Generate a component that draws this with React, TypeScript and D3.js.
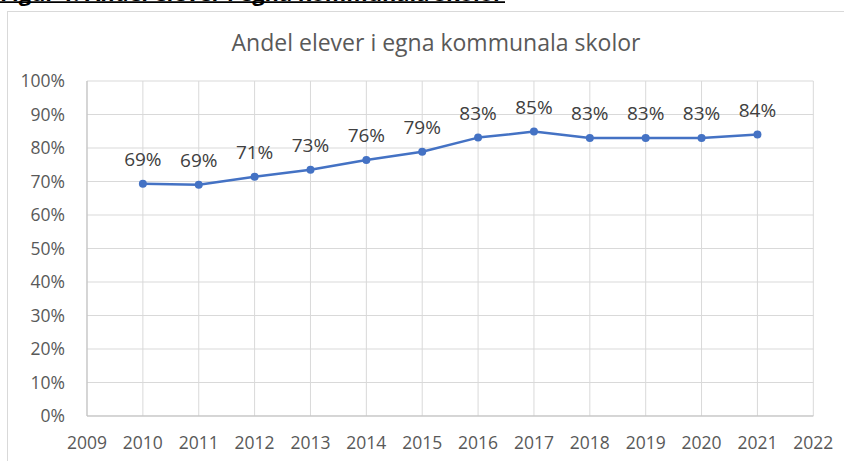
import React from "react";
import * as d3 from "d3";

const years = [2010, 2011, 2012, 2013, 2014, 2015, 2016, 2017, 2018, 2019, 2020, 2021];
const shares = [69.3, 69.0, 71.4, 73.5, 76.4, 78.9, 83.1, 84.9, 83.0, 83.0, 83.0, 84.0];
const labels = ["69%", "69%", "71%", "73%", "76%", "79%", "83%", "85%", "83%", "83%", "83%", "84%"];
const xTicks = [2009, 2010, 2011, 2012, 2013, 2014, 2015, 2016, 2017, 2018, 2019, 2020, 2021, 2022];
const yTicks = [0, 10, 20, 30, 40, 50, 60, 70, 80, 90, 100];
const chartTitle = "Andel elever i egna kommunala skolor";
const figCaption = "Figur 1. Andel elever i egna kommunala skolor";

export default function App() {
  const W = 844, H = 461;
  const x = d3.scaleLinear().domain([2009, 2022]).range([87, 813.3]);
  const y = d3.scaleLinear().domain([0, 100]).range([416, 81]);
  const line = d3.line<number>().x((_, i) => x(years[i])).y((d) => y(d));
  const font = "'Open Sans', 'Noto Sans', sans-serif";
  return (
    <svg width={W} height={H} style={{ position: "fixed", left: 0, top: 0 }}>
      <rect x={0} y={0} width={W} height={H} fill="#fff" />
      <text x={0} y={0.5} fontFamily={font} fontSize={21} fontWeight="bold" fill="#000" textLength={503} lengthAdjust="spacingAndGlyphs">{figCaption}</text>
      <line x1={0} x2={505} y1={2.2} y2={2.2} stroke="#000" strokeWidth={1.8} />
      <rect x={7.5} y={11.5} width={W} height={H} fill="none" stroke="#d9d9d9" />
      <text x={436} y={51} textAnchor="middle" fontFamily={font} fontSize={23} fill="#595959">{chartTitle}</text>
      {yTicks.map((t) => (
        <g key={t}>
          <line x1={87} x2={813.3} y1={y(t)} y2={y(t)} stroke="#d9d9d9" strokeWidth={1} />
          <text x={65} y={y(t)} dy="0.36em" textAnchor="end" fontFamily={font} fontSize={17.5} fill="#595959">{t}%</text>
        </g>
      ))}
      {xTicks.map((t) => (
        <g key={t}>
          <line x1={x(t)} x2={x(t)} y1={81} y2={416} stroke="#d9d9d9" strokeWidth={1} />
          <text x={x(t)} y={448.5} textAnchor="middle" fontFamily={font} fontSize={17.5} fill="#595959">{t}</text>
        </g>
      ))}
      <line x1={87} x2={87} y1={81} y2={416} stroke="#bfbfbf" />
      <line x1={87} x2={813.3} y1={416} y2={416} stroke="#bfbfbf" />
      <path d={line(shares) || ""} fill="none" stroke="#4472C4" strokeWidth={2.5} strokeLinejoin="round" />
      {shares.map((v, i) => (
        <g key={i}>
          <circle cx={x(years[i])} cy={y(v)} r={4} fill="#4472C4" />
          <text x={x(years[i])} y={y(v) - 18} textAnchor="middle" fontFamily={font} fontSize={19} fill="#404040">{labels[i]}</text>
        </g>
      ))}
    </svg>
  );
}
